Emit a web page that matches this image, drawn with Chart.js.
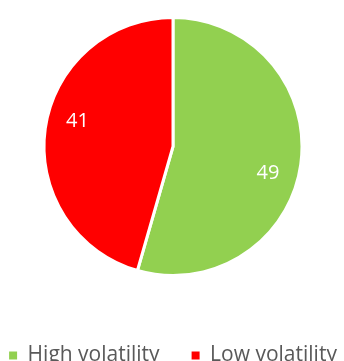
<!DOCTYPE html>
<html><head><meta charset="utf-8">
<script src="https://cdn.jsdelivr.net/npm/chart.js@4/dist/chart.umd.min.js"></script>
<style>html,body{margin:0;padding:0;background:#fff;overflow:hidden;width:344px;height:361px}#wrap{width:400px;height:376px;position:absolute;left:-28px;top:0}</style>
</head><body><div id="wrap"><canvas id="c"></canvas></div>
<script>
const categories = ["High volatility", "Low volatility"];
const values = [49, 41];
const colors = ["#92D050", "#FF0000"];

const labelPlugin = {
  id: 'sliceLabels',
  afterDatasetsDraw(chart) {
    const ctx = chart.ctx;
    const meta = chart.getDatasetMeta(0);
    ctx.save();
    ctx.fillStyle = '#ffffff';
    ctx.font = '20px "Open Sans"';
    ctx.textAlign = 'center';
    ctx.textBaseline = 'middle';
    meta.data.forEach((arc, i) => {
      const p = arc.getProps(['x','y','startAngle','endAngle','outerRadius'], true);
      const ang = p.startAngle + (p.endAngle - p.startAngle) * 0.54;
      const r = p.outerRadius * 0.765;
      ctx.fillText(String(values[i]), p.x + Math.cos(ang) * r, p.y + Math.sin(ang) * r);
    });
    ctx.restore();
  }
};

const defaultLabels = Chart.controllers.pie.overrides.plugins.legend.labels.generateLabels;

new Chart(document.getElementById('c'), {
  type: 'pie',
  data: { labels: categories, datasets: [{ data: values, backgroundColor: colors, borderColor: '#ffffff', borderWidth: 3 }] },
  options: {
    responsive: true, maintainAspectRatio: false, animation: false,
    layout: { padding: { top: 16, left: 2, right: 0, bottom: 0 } },
    plugins: {
      tooltip: { enabled: false },
      legend: {
        position: 'bottom',
        title: { display: true, text: ' ', font: { size: 10 }, padding: { top: 24, bottom: 0 } },
        labels: {
          boxWidth: 8, boxHeight: 8, padding: 32, color: '#595959',
          font: { family: '"Open Sans"', size: 21 },
          generateLabels(chart) {
            return defaultLabels(chart).map(it => Object.assign(it, { lineWidth: 0, strokeStyle: 'rgba(0,0,0,0)' }));
          }
        }
      }
    }
  },
  plugins: [labelPlugin]
});
</script></body></html>
